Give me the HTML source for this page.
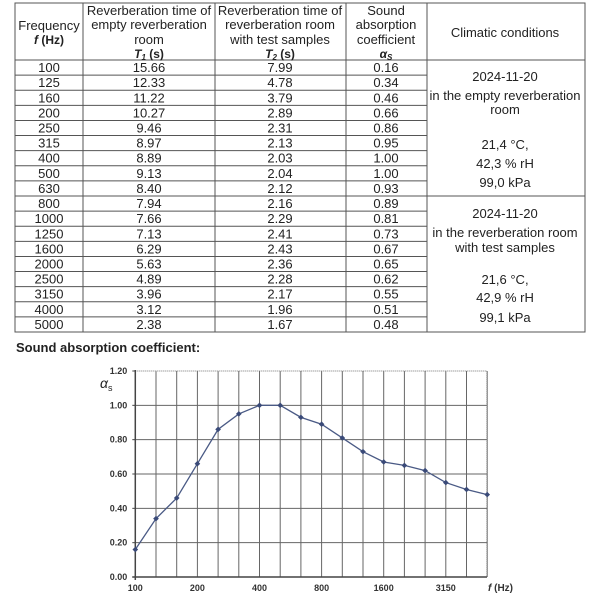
<!DOCTYPE html>
<html><head><meta charset="utf-8"><style>
html,body{margin:0;padding:0;background:#fff;}
svg{display:block;font-family:"Liberation Sans",Arial,sans-serif;}
</style></head><body>
<svg width="600" height="600" viewBox="0 0 600 600" xmlns="http://www.w3.org/2000/svg">
<g stroke="#555" stroke-width="1" fill="none">
<rect x="15" y="3" width="570" height="329"/>
<line x1="83" y1="3" x2="83" y2="332"/>
<line x1="215" y1="3" x2="215" y2="332"/>
<line x1="346" y1="3" x2="346" y2="332"/>
<line x1="427" y1="3" x2="427" y2="332"/>
<line x1="15" y1="60" x2="585" y2="60"/>
<line x1="15" y1="196" x2="585" y2="196"/>
</g>
<g id="rowlines" stroke="#555" stroke-width="1"></g>
<g fill="#222" font-size="13" text-anchor="middle">
<text x="49" y="30">Frequency</text>
<text x="49" y="44" font-size="12" font-weight="bold"><tspan font-style="italic">f</tspan> (Hz)</text>
<text x="149" y="15">Reverberation time of</text>
<text x="149" y="29">empty reverberation</text>
<text x="149" y="44">room</text>
<text x="149" y="58" font-size="12" font-weight="bold"><tspan font-style="italic">T</tspan><tspan font-size="8" font-style="italic" dy="2">1</tspan><tspan dy="-2"> (s)</tspan></text>
<text x="280" y="15">Reverberation time of</text>
<text x="280" y="29">reverberation room</text>
<text x="280" y="44">with test samples</text>
<text x="280" y="58" font-size="12" font-weight="bold"><tspan font-style="italic">T</tspan><tspan font-size="8" font-style="italic" dy="2">2</tspan><tspan dy="-2"> (s)</tspan></text>
<text x="386" y="15">Sound</text>
<text x="386" y="29">absorption</text>
<text x="386" y="44">coefficient</text>
<text x="386" y="58" font-size="12" font-weight="bold" font-style="italic">α<tspan font-size="8" dy="2">S</tspan></text>
<text x="505" y="37">Climatic conditions</text>
<text x="505" y="81">2024-11-20</text>
<text x="505" y="100">in the empty reverberation</text>
<text x="505" y="114">room</text>
<text x="505" y="149">21,4 °C,</text>
<text x="505" y="168">42,3 % rH</text>
<text x="505" y="187">99,0 kPa</text>
<text x="505" y="218">2024-11-20</text>
<text x="505" y="237">in the reverberation room</text>
<text x="505" y="252">with test samples</text>
<text x="505" y="284">21,6 °C,</text>
<text x="505" y="302">42,9 % rH</text>
<text x="505" y="322">99,1 kPa</text>
</g>
<g id="rows" fill="#222" font-size="13" text-anchor="middle"></g>
<text x="16" y="352" font-size="13" font-weight="bold" fill="#222">Sound absorption coefficient:</text>
<g id="chart"></g>
</svg>
<script>
var data=[["100","15.66","7.99","0.16"],["125","12.33","4.78","0.34"],["160","11.22","3.79","0.46"],["200","10.27","2.89","0.66"],["250","9.46","2.31","0.86"],["315","8.97","2.13","0.95"],["400","8.89","2.03","1.00"],["500","9.13","2.04","1.00"],["630","8.40","2.12","0.93"],["800","7.94","2.16","0.89"],["1000","7.66","2.29","0.81"],["1250","7.13","2.41","0.73"],["1600","6.29","2.43","0.67"],["2000","5.63","2.36","0.65"],["2500","4.89","2.28","0.62"],["3150","3.96","2.17","0.55"],["4000","3.12","1.96","0.51"],["5000","2.38","1.67","0.48"]];
var NS="http://www.w3.org/2000/svg";
function el(t,a,p,txt){var e=document.createElementNS(NS,t);for(var k in a)e.setAttribute(k,a[k]);if(txt!=null)e.textContent=txt;p.appendChild(e);return e;}
var rl=document.getElementById('rowlines'),rw=document.getElementById('rows');
var xs=[49,149,280,386];
var rh=(332-60)/18;
for(var i=1;i<18;i++){if(i==9)continue;var y=60+i*rh;el('line',{x1:15,x2:427,y1:y,y2:y},rl);}
data.forEach(function(r,i){var y=60+(i+0.5)*rh+4.5;r.forEach(function(v,j){el('text',{x:xs[j],y:y},rw,v);});});
var c=document.getElementById('chart');
var x0=135.3,dx=20.7,y0=577,yt=371,sy=(y0-yt)/1.2,xr=487;
for(var i=1;i<=17;i++){var x=x0+i*dx;el('line',{x1:x,x2:x,y1:yt,y2:y0,stroke:'#666','stroke-width':1},c);}
for(var k=1;k<6;k++){var y=y0-k*0.2*sy;el('line',{x1:x0,x2:xr,y1:y,y2:y,stroke:'#666','stroke-width':1},c);}
el('line',{x1:x0,x2:xr,y1:yt,y2:yt,stroke:'#777','stroke-dasharray':'1,1'},c);
el('line',{x1:xr,x2:xr,y1:yt,y2:y0,stroke:'#777','stroke-dasharray':'1,1'},c);
el('line',{x1:x0,x2:x0,y1:yt-1,y2:y0+3,stroke:'#444','stroke-width':1.5},c);
el('line',{x1:x0-3,x2:xr,y1:y0,y2:y0,stroke:'#444','stroke-width':1.5},c);
for(var k=0;k<=6;k++){var y=y0-k*0.2*sy;el('line',{x1:x0-3,x2:x0,y1:y,y2:y,stroke:'#444'},c);el('text',{x:x0-8,y:y+3,'font-size':9,'text-anchor':'end',fill:'#333','font-weight':'bold'},c,(k*0.2).toFixed(2));}
[["100",0],["200",3],["400",6],["800",9],["1600",12],["3150",15]].forEach(function(a){el('text',{x:x0+a[1]*dx,y:591,'font-size':9,'text-anchor':'middle',fill:'#333','font-weight':'bold'},c,a[0]);});
var t=el('text',{x:488,y:591,'font-size':10,fill:'#333','font-weight':'bold'},c,'');
el('tspan',{'font-style':'italic'},t,'f');el('tspan',{},t,' (Hz)');
var a=el('text',{x:100,y:388,'font-size':14,fill:'#222','font-style':'italic'},c,'α');
el('tspan',{'font-size':9,'font-style':'normal',dy:3},a,'s');
var pts=data.map(function(r,i){return [x0+i*dx, y0-parseFloat(r[3])*sy];});
el('polyline',{points:pts.map(function(p){return p.join(',');}).join(' '),fill:'none',stroke:'#4a5a85','stroke-width':1.3},c);
pts.forEach(function(p){el('rect',{x:p[0]-2,y:p[1]-2,width:4,height:4,fill:'#3a4a78',transform:'rotate(45 '+p[0]+' '+p[1]+')'},c);});
</script>
</body></html>
